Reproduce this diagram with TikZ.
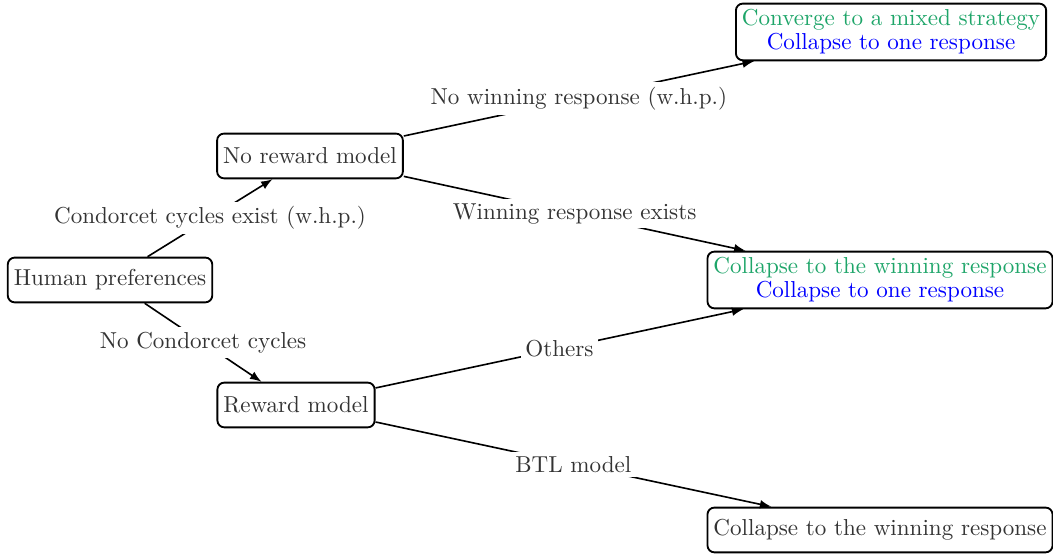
\documentclass[tikz,border=0pt]{standalone}
\usepackage{tikz}
\usetikzlibrary{arrows.meta, positioning, calc}
\tikzset{>={Stealth}}
\definecolor{mixgreen}{RGB}{30,165,105}

\begin{document}
\begin{tikzpicture}[
  thick,
  box/.style={rectangle, draw, rounded corners=3pt, align=center, text=black!80,
    inner xsep=2.6pt, inner ysep=2.6pt, minimum height=19.4pt},
  branch/.style={->, >=latex, line width=0.7pt},
  cond/.style={fill=white, text=black!80, inner sep=2pt}
]
  \useasboundingbox (0,0) rectangle (16.04,-8.44);

  % Nodes
  \node[box] (H) at (1.676,-4.265) {Human preferences};
  \node[box] (NR) at (4.722,-2.376) {No reward model};
  \node[box] (RM) at (4.509,-6.169) {Reward model};
  \node[box] (MIX) at (13.573,-0.487) {\textcolor{mixgreen}{Converge to a mixed strategy}\\[-1.6pt]\textcolor{blue}{Collapse to one response}};
  \node[box] (WIN) at (13.405,-4.265) {\textcolor{mixgreen}{Collapse to the winning response}\\[-1.6pt]\textcolor{blue}{Collapse to one response}};
  \node[box] (BTL) at (13.405,-8.073) {Collapse to the winning response};

  % Branches
  \draw[branch] (H) -- node[cond] {Condorcet cycles exist (w.h.p.)} (NR);
  \draw[branch] (H) -- node[cond] {No Condorcet cycles} (RM);
  \draw[branch] (NR) -- node[cond] {No winning response (w.h.p.)} (MIX);
  \draw[branch] (NR) -- node[cond] {Winning response exists} (WIN);
  \draw[branch] (RM) -- node[cond] {Others} (WIN);
  \draw[branch] (RM) -- node[cond] {BTL model} (BTL);
\end{tikzpicture}
\end{document}
